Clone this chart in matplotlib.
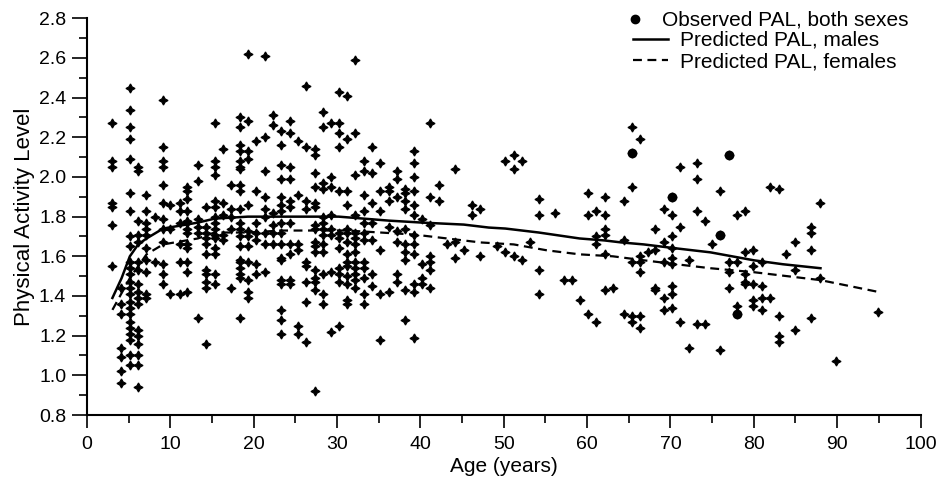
import matplotlib
matplotlib.use("Agg")
import matplotlib.pyplot as plt
from matplotlib.lines import Line2D
from matplotlib.ticker import MultipleLocator

plt.rcParams['font.family'] = ['Liberation Sans', 'DejaVu Sans']

# ---- observed PAL, grouped by age column (years) ----
col_age = [3.0, 4.1, 5.1, 6.1, 7.1, 8.1, 9.1, 10.0, 11.1, 12.0,
           13.3, 14.3, 15.3, 16.3, 17.3, 18.3, 19.3, 20.3, 21.3, 22.3, 23.3, 24.3, 25.3,
           26.3, 27.3, 28.3, 29.3, 30.2, 31.2, 32.2, 33.2, 34.2, 35.2, 36.2,
           37.2, 38.2, 39.2, 40.2, 41.2, 42.2, 43.2, 44.2, 45.2, 46.2, 47.2,
           49.2, 50.2, 51.2, 52.2, 53.2, 54.2, 56.2, 57.2, 58.2, 59.1, 60.1, 61.1, 62.1, 63.1,
           64.4, 65.4, 66.4, 67.3, 68.2, 69.2, 70.2, 71.2, 72.2, 73.2, 74.1,
           75.0, 76.0, 77.0, 78.0, 79.0, 79.9,
           81.0, 82.0, 83.0, 83.9, 84.9, 86.9, 87.9, 89.9, 94.9]
col_pal = [
    [2.27, 2.08, 2.05, 1.87, 1.85, 1.76, 1.55],
    [1.44, 1.36, 1.31, 1.14, 1.09, 1.02, 0.96],
    [2.45, 2.34, 2.25, 2.19, 2.09, 1.92, 1.83, 1.70, 1.65, 1.57, 1.54, 1.51, 1.47, 1.44,
     1.41, 1.37, 1.34, 1.31, 1.27, 1.24, 1.21, 1.18, 1.10, 1.05],
    [2.05, 2.03, 1.78, 1.71, 1.67, 1.57, 1.53, 1.46, 1.42, 1.39, 1.36, 1.23, 1.20, 1.16,
     1.10, 1.05, 0.94],
    [1.91, 1.83, 1.77, 1.74, 1.71, 1.64, 1.58, 1.52, 1.41, 1.39],
    [1.80, 1.57],
    [2.39, 2.15, 2.08, 2.05, 1.96, 1.87, 1.79, 1.74, 1.67, 1.56, 1.51, 1.46],
    [1.86, 1.74, 1.41],
    [1.87, 1.83, 1.77, 1.66, 1.57, 1.41],
    [1.95, 1.93, 1.89, 1.83, 1.78, 1.77, 1.74, 1.72, 1.66, 1.64, 1.57, 1.52, 1.42],
    [2.06, 1.98, 1.79, 1.75, 1.72, 1.29],
    [1.85, 1.75, 1.72, 1.69, 1.66, 1.61, 1.53, 1.51, 1.47, 1.44, 1.16],
    [2.27, 2.08, 2.05, 2.01, 1.88, 1.85, 1.80, 1.77, 1.74, 1.71, 1.69, 1.64, 1.61, 1.51, 1.46],
    [2.14, 1.87, 1.81, 1.71, 1.68],
    [1.96, 1.84, 1.80, 1.74, 1.44],
    [2.30, 2.25, 2.16, 2.13, 2.08, 2.05, 2.04, 1.96, 1.93, 1.84, 1.77, 1.74, 1.70, 1.65,
     1.58, 1.57, 1.54, 1.51, 1.49, 1.29],
    [2.62, 2.28, 2.13, 2.09, 1.86, 1.73, 1.70, 1.65, 1.57, 1.48, 1.42, 1.39],
    [2.18, 1.93, 1.77, 1.72, 1.68, 1.56, 1.51],
    [2.61, 2.20, 2.03, 1.90, 1.84, 1.80, 1.72, 1.66, 1.52],
    [2.31, 2.26, 1.82, 1.76, 1.72, 1.66],
    [2.23, 2.16, 2.06, 1.99, 1.90, 1.86, 1.83, 1.77, 1.72, 1.66, 1.59, 1.58, 1.48, 1.46,
     1.33, 1.28, 1.21],
    [2.28, 2.22, 2.05, 1.99, 1.88, 1.85, 1.77, 1.66, 1.61, 1.48, 1.46],
    [2.18, 1.91, 1.66, 1.63, 1.25, 1.21],
    [2.46, 2.15, 1.88, 1.84, 1.57, 1.55, 1.47, 1.37, 1.17],
    [2.14, 2.11, 2.02, 1.95, 1.87, 1.85, 1.76, 1.74, 1.67, 1.65, 1.62, 1.53, 1.49, 1.47,
     1.43, 0.92],
    [2.33, 2.25, 1.97, 1.94, 1.80, 1.77, 1.74, 1.71, 1.66, 1.62, 1.51, 1.41, 1.36],
    [2.27, 2.00, 1.95, 1.81, 1.74, 1.71, 1.52, 1.22],
    [2.43, 2.27, 2.22, 2.15, 1.93, 1.72, 1.69, 1.64, 1.54, 1.51, 1.47, 1.25],
    [2.41, 2.19, 1.93, 1.86, 1.74, 1.72, 1.67, 1.61, 1.57, 1.55, 1.50, 1.46, 1.38, 1.36],
    [2.59, 2.22, 2.01, 1.81, 1.72, 1.69, 1.66, 1.62, 1.57, 1.54, 1.51, 1.48, 1.44],
    [2.08, 2.03, 1.91, 1.83, 1.77, 1.72, 1.68, 1.57, 1.54, 1.49, 1.41, 1.36],
    [2.15, 2.02, 1.87, 1.77, 1.68, 1.51, 1.45],
    [2.07, 1.93, 1.83, 1.63, 1.41, 1.18],
    [1.95, 1.93, 1.88, 1.75, 1.42],
    [2.03, 1.99, 1.90, 1.73, 1.67, 1.51, 1.47],
    [1.94, 1.92, 1.88, 1.84, 1.74, 1.66, 1.62, 1.58, 1.43, 1.28],
    [2.13, 2.07, 2.00, 1.93, 1.86, 1.81, 1.71, 1.66, 1.61, 1.46, 1.42, 1.19],
    [1.79, 1.56, 1.49, 1.46],
    [2.27, 1.90, 1.76, 1.60, 1.57, 1.53, 1.44],
    [1.96, 1.88],
    [1.66],
    [2.04, 1.67, 1.59],
    [1.63],
    [1.86, 1.81],
    [1.84, 1.60],
    [1.65],
    [2.08, 1.62],
    [2.11, 2.04, 1.60],
    [2.08, 1.58],
    [1.67],
    [1.89, 1.81, 1.53, 1.41],
    [1.82],
    [1.48],
    [1.48],
    [1.38],
    [1.92, 1.81, 1.31],
    [1.83, 1.70, 1.66, 1.27],
    [1.90, 1.81, 1.74, 1.71, 1.61, 1.43],
    [1.44],
    [1.88, 1.68, 1.31],
    [2.25, 2.12, 1.95, 1.57, 1.30, 1.27],
    [2.19, 1.60, 1.57, 1.52, 1.30, 1.24],
    [1.62],
    [1.74, 1.63, 1.44, 1.43],
    [1.84, 1.67, 1.57, 1.39, 1.33],
    [1.90, 1.81, 1.70, 1.64, 1.59, 1.56, 1.45, 1.41, 1.34],
    [2.05, 1.75, 1.27],
    [1.58, 1.14],
    [2.07, 1.99, 1.83, 1.26],
    [1.78, 1.26],
    [1.66],
    [1.93, 1.71, 1.13],
    [2.11, 1.57, 1.52, 1.44],
    [1.81, 1.57, 1.35, 1.31],
    [1.83, 1.62, 1.51, 1.47, 1.46],
    [1.63, 1.55, 1.46, 1.38, 1.35],
    [1.57, 1.45, 1.39, 1.33],
    [1.95, 1.39],
    [1.94, 1.30, 1.20, 1.17],
    [1.61],
    [1.67, 1.53, 1.23],
    [1.75, 1.72, 1.63, 1.29],
    [1.87, 1.49],
    [1.07],
    [1.32],
]

# a few observations printed as larger round dots
dot_age = [65.4, 77.0, 78.0, 70.2, 76.0]
dot_pal = [2.12, 2.11, 1.31, 1.90, 1.71]

# ---- predicted PAL curves ----
male_age = [3.05, 4.15, 5.14, 6.14, 7.14, 9.13, 11.9, 13.3, 15.3, 19.3, 24.3, 30.2, 36.2,
            40.2, 45.2, 48.2, 50.2, 54.2, 59.1, 62.1, 64.1, 66.8, 70.7, 74.8, 80.0, 83.5, 88.0]
male_pal = [1.39, 1.49, 1.60, 1.66, 1.69, 1.74, 1.76, 1.77, 1.79, 1.80, 1.80, 1.80, 1.78,
            1.77, 1.76, 1.745, 1.74, 1.72, 1.69, 1.68, 1.67, 1.66, 1.64, 1.62, 1.58, 1.56, 1.54]
fem_age = [3.05, 5.14, 6.14, 7.14, 9.13, 11.9, 13.3, 15.3, 19.3, 23.3, 27.3, 31.2, 35.2,
           39.2, 43.2, 47.2, 51.2, 55.2, 59.1, 63.1, 66.8, 70.7, 74.8, 80.0, 84.0, 88.0, 95.0]
fem_pal = [1.33, 1.49, 1.55, 1.61, 1.66, 1.68, 1.69, 1.72, 1.72, 1.73, 1.73, 1.73, 1.72,
           1.71, 1.69, 1.67, 1.66, 1.63, 1.61, 1.60, 1.58, 1.56, 1.54, 1.52, 1.50, 1.48, 1.42]

x_ticks = [0, 10, 20, 30, 40, 50, 60, 70, 80, 90, 100]
y_ticks = [0.8, 1.0, 1.2, 1.4, 1.6, 1.8, 2.0, 2.2, 2.4, 2.6, 2.8]

obs_age = [a for a, vals in zip(col_age, col_pal) for _ in vals]
obs_pal = [v for vals in col_pal for v in vals]

W, H = 939, 483
ax_l, ax_r, ax_t, ax_b = 87, 920.5, 18.3, 415
fig = plt.figure(figsize=(W / 100, H / 100), dpi=100)
ax = fig.add_axes([ax_l / W, 1 - ax_b / H, (ax_r - ax_l) / W, (ax_b - ax_t) / H])

ax.plot(obs_age, obs_pal, linestyle='none', marker=(4, 1, 0), markersize=6.5,
        color='black', markeredgewidth=0.9)
ax.plot(dot_age, dot_pal, linestyle='none', marker='o', markersize=6, color='black')
ax.plot(male_age, male_pal, color='black', linewidth=1.8)
ax.plot(fem_age, fem_pal, color='black', linewidth=1.6, linestyle=(0, (4, 2.5)))

ax.set_xlim(0, 100)
ax.set_ylim(0.8, 2.8)
ax.set_xticks(x_ticks)
ax.set_yticks(y_ticks)
ax.set_yticklabels([f"{v:.1f}" for v in y_ticks])
ax.xaxis.set_minor_locator(MultipleLocator(5))
ax.yaxis.set_minor_locator(MultipleLocator(0.1))
ax.tick_params(axis='both', which='both', direction='out', width=1.2, labelsize=14)
ax.tick_params(axis='x', which='major', length=9, pad=6)
ax.tick_params(axis='x', which='minor', length=5.5)
ax.tick_params(axis='y', which='major', length=11, pad=4)
ax.tick_params(axis='y', which='minor', length=6)
for s in ['top', 'right']:
    ax.spines[s].set_visible(False)
for s in ['left', 'bottom']:
    ax.spines[s].set_linewidth(1.5)

ax.set_xlabel('Age (years)', fontsize=15, labelpad=3)
ax.set_ylabel('Physical Activity Level', fontsize=16, labelpad=3)

fs = 15
h_obs = Line2D([], [], linestyle='none', marker='o', markersize=6, color='black')
h_male = Line2D([], [], color='black', linewidth=1.8)
h_fem = Line2D([], [], color='black', linewidth=1.6, linestyle=(0, (4, 2.5)))

leg1 = ax.legend([h_obs], ['Observed PAL, both sexes'], loc='upper left',
                 bbox_to_anchor=((624.6 - ax_l) / (ax_r - ax_l), 1 + (ax_t - 11) / (ax_b - ax_t)),
                 frameon=False, fontsize=fs, handlelength=1.0, handletextpad=0.8,
                 borderpad=0, borderaxespad=0)
ax.add_artist(leg1)
ax.legend([h_male, h_fem], ['Predicted PAL, males', 'Predicted PAL, females'],
          loc='upper left',
          bbox_to_anchor=((633 - ax_l) / (ax_r - ax_l), 1 - (31 - ax_t) / (ax_b - ax_t)),
          frameon=False, fontsize=fs, handlelength=1.68, handletextpad=0.58,
          labelspacing=0.1, borderpad=0, borderaxespad=0)

fig.savefig('out.png', dpi=100)
